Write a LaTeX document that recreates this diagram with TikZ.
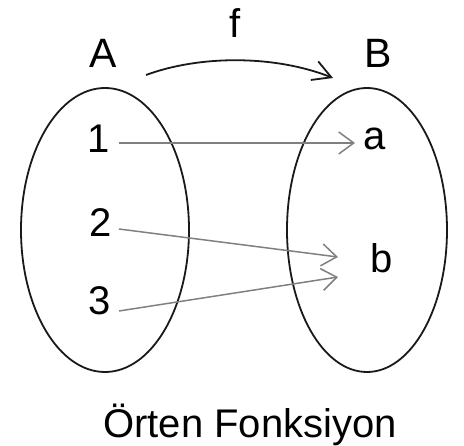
\documentclass[tikz,border=0pt]{standalone}
\usepackage{fontspec}
\setmainfont{Liberation Sans}
\usetikzlibrary{arrows.meta}
\begin{document}
\begin{tikzpicture}[x=1pt,y=-1pt,
  setline/.style={draw=black!90,line width=1.8pt},
  maparrow/.style={draw=black!50,line width=1.5pt,-{Straight Barb[length=15pt,width=22pt,line width=1.5pt]}},
  farrow/.style={draw=black!90,line width=1.8pt,-{Straight Barb[length=18pt,width=20pt,line width=1.8pt]}},
  setlabel/.style={anchor=base,inner sep=0pt,font=\fontsize{41}{44}\selectfont},
  elem/.style={anchor=base,inner sep=0pt,font=\fontsize{40}{44}\selectfont},
  title/.style={anchor=base,inner sep=0pt,font=\fontsize{40}{44}\selectfont}]
\useasboundingbox (0,0) rectangle (464,446);
% sets
\draw[setline] (105,230) ellipse [x radius=84, y radius=142];
\draw[setline] (367,230) ellipse [x radius=80, y radius=142];
% labels
\node[setlabel] (lA) at (103,68) {A};
\node[setlabel] (lB) at (378,68) {B};
\node[elem] (lf) at (235,38) {f};
% elements
\node[elem] (n1) at (99,153) {1};
\node[elem] (n2) at (101,237) {2};
\node[elem] (n3) at (100,315) {3};
\node[elem] (ea) at (375,150) {a};
\node[elem] (eb) at (382,273) {b};
% arrow endpoints
\coordinate (s1) at (119,143);
\coordinate (s2) at (119,229);
\coordinate (s3) at (119,311);
\coordinate (ta) at (355,143);
\coordinate (tb2) at (338,257);
\coordinate (tb3) at (338,277);
\coordinate (fs) at (146,75);
\coordinate (fe) at (333,78);
\draw[maparrow] (s1) -- (ta);
\draw[maparrow] (s2) -- (tb2);
\draw[maparrow] (s3) -- (tb3);
\draw[farrow] (fs) .. controls (200,55) and (275,55) .. (fe);
% title
\node[title] (t) at (250,438) {Örten Fonksiyon};
\end{tikzpicture}
\end{document}
